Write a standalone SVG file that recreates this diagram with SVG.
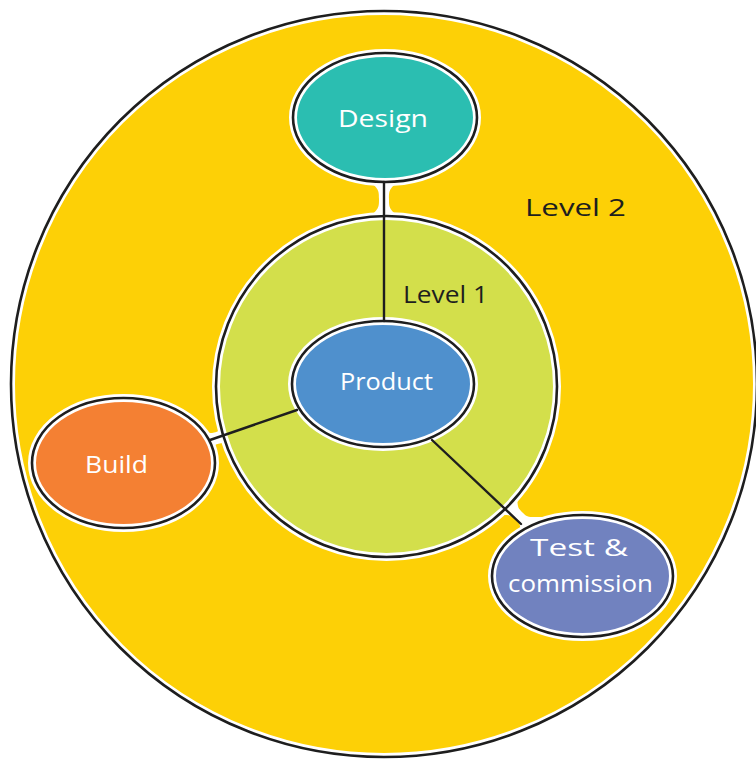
<svg xmlns="http://www.w3.org/2000/svg" width="756" height="760" viewBox="0 0 756 760">
  <style>
    .halo { stroke: #ffffff; stroke-width: 8; }
    .edge { fill: none; stroke: #1e1e1e; stroke-width: 2.6; }
    .neck { fill: #ffffff; }
    .lbl { font-family: "Open Sans", "Liberation Sans", sans-serif; font-size: 24px; fill: #ffffff; }
    .lvl { font-family: "Open Sans", "Liberation Sans", sans-serif; font-size: 24px; fill: #1e1e1e; }
    .conn { stroke: #1e1e1e; stroke-width: 2.4; fill: none; stroke-linecap: round; }
  </style>
  <rect x="0" y="0" width="756" height="760" fill="#ffffff"/>

  <g id="level2">
    <circle cx="384" cy="384" r="373" fill="#fdd006" class="halo"/>
    <circle cx="384" cy="384" r="373" class="edge"/>
    <text class="lvl" x="525" y="216" textLength="101" lengthAdjust="spacingAndGlyphs">Level 2</text>
  </g>

  <g id="necks">
    <path class="neck" transform="translate(384 199) rotate(90)" d="M -24 -22 C -10 -5 -10 -5 0 -5 C 10 -5 10 -5 24 -22 L 24 22 C 10 5 10 5 0 5 C -10 5 -10 5 -24 22 Z"/>
    <path class="neck" transform="translate(217 438) rotate(-16)" d="M -16 -18 C -6 -6 -6 -6 0 -6 C 6 -6 6 -6 16 -18 L 16 18 C 6 6 6 6 0 6 C -6 6 -6 6 -16 18 Z"/>
    <path class="neck" transform="translate(519 516) rotate(44)" d="M -18 -16 C -7 -5 -7 -5 0 -5 C 7 -5 7 -5 18 -16 L 18 16 C 7 5 7 5 0 5 C -7 5 -7 5 -18 16 Z"/>
  </g>

  <g id="level1">
    <circle cx="386.5" cy="386.5" r="170.5" fill="#d3df4b" class="halo"/>
    <circle cx="386.5" cy="386.5" r="170.5" class="edge"/>
    <text class="lvl" x="403" y="303" textLength="85" lengthAdjust="spacingAndGlyphs">Level 1</text>
  </g>

  <g id="product">
    <ellipse cx="383" cy="384" rx="91" ry="63" fill="#4f90cd" class="halo"/>
    <ellipse cx="383" cy="384" rx="91" ry="63" class="edge"/>
    <text class="lbl" x="340" y="390" textLength="93" lengthAdjust="spacingAndGlyphs">Product</text>
  </g>

  <g id="design">
    <ellipse cx="385" cy="117.5" rx="92" ry="64.5" fill="#2bbeb1" class="halo"/>
    <ellipse cx="385" cy="117.5" rx="92" ry="64.5" class="edge"/>
    <text class="lbl" x="338" y="127" textLength="90" lengthAdjust="spacingAndGlyphs">Design</text>
  </g>

  <g id="build">
    <ellipse cx="123.5" cy="463" rx="91.5" ry="65" fill="#f48033" class="halo"/>
    <ellipse cx="123.5" cy="463" rx="91.5" ry="65" class="edge"/>
    <text class="lbl" x="85" y="473" textLength="63" lengthAdjust="spacingAndGlyphs">Build</text>
  </g>

  <g id="test">
    <ellipse cx="582.5" cy="576" rx="90.5" ry="61" fill="#7182bf" class="halo"/>
    <ellipse cx="582.5" cy="576" rx="90.5" ry="61" class="edge"/>
    <text class="lbl" x="530" y="556" textLength="98" lengthAdjust="spacingAndGlyphs">Test &amp;</text>
    <text class="lbl" x="508" y="592" textLength="145" lengthAdjust="spacingAndGlyphs">commission</text>
  </g>

  <g id="connectors">
    <line class="conn" x1="384" y1="182" x2="384" y2="321"/>
    <line class="conn" x1="210" y1="440" x2="297" y2="410"/>
    <line class="conn" x1="432" y1="440" x2="521" y2="524"/>
  </g>
</svg>
